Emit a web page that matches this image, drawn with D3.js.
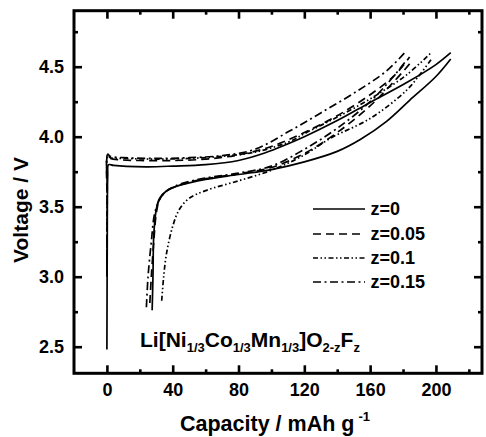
<!DOCTYPE html>
<html>
<head>
<meta charset="utf-8">
<script src="https://cdn.jsdelivr.net/npm/d3@7"></script>
<style>
  html, body { margin: 0; padding: 0; background: #fff; }
  svg { display: block; }
  text { font-family: "Liberation Sans", Arial, Helvetica, sans-serif; font-weight: bold; fill: #000; }
</style>
</head>
<body>
<svg id="chart" width="486" height="437"></svg>
<script>
// Charge / discharge profiles: [capacity (mAh/g), voltage (V)]
const z0Charge = [[0,2.48],[0.2,3.2],[0.5,3.72],[1,3.80],[4,3.795],[12,3.788],[25,3.785],[40,3.79],[60,3.80],[80,3.83],[95,3.88],[105,3.925],[120,4.00],[140,4.115],[160,4.245],[182,4.385],[200,4.515],[209,4.60]];
const z0Discharge = [[209,4.555],[200,4.43],[184,4.26],[170,4.11],[154,3.98],[140,3.895],[120,3.82],[100,3.765],[80,3.73],[60,3.695],[50,3.67],[42,3.645],[36,3.61],[32,3.56],[30,3.48],[28.5,3.3],[28,3.0],[27.5,2.76]];

const z005Charge = [[0,3.05],[0.2,3.5],[0.5,3.86],[2,3.845],[8,3.835],[20,3.83],[40,3.83],[60,3.84],[80,3.87],[100,3.93],[120,4.03],[140,4.15],[160,4.30],[175,4.44],[184,4.57]];
const z005Discharge = [[184,4.52],[175,4.40],[160,4.22],[140,4.03],[120,3.88],[100,3.78],[80,3.735],[60,3.70],[50,3.675],[42,3.645],[36,3.61],[32,3.55],[30,3.45],[28.5,3.25],[27,3.0],[26,2.79]];

const z01Charge = [[0,3.1],[0.2,3.6],[0.5,3.865],[2,3.85],[10,3.845],[30,3.84],[50,3.845],[70,3.86],[90,3.89],[110,3.96],[123,4.04],[140,4.14],[160,4.27],[182,4.44],[197,4.60]];
const z01Discharge = [[197,4.55],[190,4.44],[182,4.33],[160,4.13],[136,3.99],[120,3.87],[100,3.76],[80,3.685],[60,3.615],[50,3.56],[44,3.48],[40,3.36],[36.3,3.17],[34.5,3.0],[33.2,2.81]];

const z015Charge = [[0,3.0],[0.2,3.6],[0.5,3.875],[2,3.86],[10,3.85],[30,3.845],[50,3.85],[70,3.865],[90,3.91],[111,4.04],[130,4.17],[150,4.31],[170,4.47],[181,4.60]];
const z015Discharge = [[181,4.53],[172,4.40],[160,4.25],[140,4.06],[120,3.91],[100,3.79],[80,3.74],[60,3.705],[50,3.68],[42,3.65],[36,3.61],[32,3.55],[29,3.45],[27,3.25],[25,3.0],[24,2.78]];

const seriesNames = ["z=0", "z=0.05", "z=0.1", "z=0.15"];
const seriesCurves = [
  [z0Charge, z0Discharge],
  [z005Charge, z005Discharge],
  [z01Charge, z01Discharge],
  [z015Charge, z015Discharge]
];

const xMajorTicks = [0, 40, 80, 120, 160, 200];
const xMinorTicks = [20, 60, 100, 140, 180, 220];
const yMajorTicks = [2.5, 3.0, 3.5, 4.0, 4.5];
const yMinorTicks = [2.75, 3.25, 3.75, 4.25, 4.75];

// Line style per series
const dashStyles = ["none", "8,5", "5,2.5,1.5,2.5,1.5,2.5", "8,3.5,2,3.5"];

const svg = d3.select("#chart");
const plotLeft = 74, plotRight = 482, plotTop = 10.7, plotBottom = 373.3;

const x = d3.scaleLinear().domain([-20, 228]).range([plotLeft, plotRight]);
const y = d3.scaleLinear().domain([2.31, 4.9]).range([plotBottom, plotTop]);

const line = d3.line()
  .x(d => x(d[0]))
  .y(d => y(d[1]))
  .curve(d3.curveCatmullRom.alpha(0.5));

// curves
const curveG = svg.append("g").attr("fill", "none").attr("stroke", "#000").attr("stroke-width", 1.7);
seriesCurves.forEach((pair, i) => {
  pair.forEach(pts => {
    curveG.append("path")
      .attr("d", line(pts))
      .attr("stroke-dasharray", dashStyles[i]);
  });
});

// axes: ticks point inward on all four sides
function styleAxis(g) {
  g.select(".domain").remove();
  g.selectAll(".tick line").attr("stroke", "#000").attr("stroke-width", 2.6);
}
function styleLabels(g) {
  g.selectAll("text").attr("font-size", 18).attr("font-family", null).attr("fill", "#000").style("font-weight", "bold");
}

svg.append("g").attr("transform", `translate(0,${plotBottom})`)
  .call(d3.axisBottom(x).tickValues(xMajorTicks).tickSize(-8).tickPadding(10).tickFormat(d3.format("d")))
  .call(styleAxis).call(styleLabels);
svg.append("g").attr("transform", `translate(0,${plotBottom})`)
  .call(d3.axisBottom(x).tickValues(xMinorTicks).tickSize(-4).tickFormat(""))
  .call(styleAxis);
svg.append("g").attr("transform", `translate(0,${plotTop})`)
  .call(d3.axisTop(x).tickValues(xMajorTicks).tickSize(-8).tickFormat(""))
  .call(styleAxis);
svg.append("g").attr("transform", `translate(0,${plotTop})`)
  .call(d3.axisTop(x).tickValues(xMinorTicks).tickSize(-4).tickFormat(""))
  .call(styleAxis);

svg.append("g").attr("transform", `translate(${plotLeft},0)`)
  .call(d3.axisLeft(y).tickValues(yMajorTicks).tickSize(-8).tickPadding(10).tickFormat(d3.format(".1f")))
  .call(styleAxis).call(styleLabels);
svg.append("g").attr("transform", `translate(${plotLeft},0)`)
  .call(d3.axisLeft(y).tickValues(yMinorTicks).tickSize(-4).tickFormat(""))
  .call(styleAxis);
svg.append("g").attr("transform", `translate(${plotRight},0)`)
  .call(d3.axisRight(y).tickValues(yMajorTicks).tickSize(-8).tickFormat(""))
  .call(styleAxis);
svg.append("g").attr("transform", `translate(${plotRight},0)`)
  .call(d3.axisRight(y).tickValues(yMinorTicks).tickSize(-4).tickFormat(""))
  .call(styleAxis);

// frame
svg.append("rect")
  .attr("x", plotLeft).attr("y", plotTop)
  .attr("width", plotRight - plotLeft).attr("height", plotBottom - plotTop)
  .attr("fill", "none").attr("stroke", "#000").attr("stroke-width", 3);

// axis titles
const xt = svg.append("text")
  .attr("x", 275).attr("y", 431)
  .attr("text-anchor", "middle")
  .attr("font-size", 21.5);
xt.append("tspan").text("Capacity / mAh g");
xt.append("tspan").attr("font-size", 13).attr("dx", 4).attr("dy", -10).text("-1");

svg.append("text")
  .attr("transform", "translate(28,210) rotate(-90)")
  .attr("text-anchor", "middle")
  .attr("font-size", 21)
  .text("Voltage / V");

// legend
const legendY = [209, 234, 258, 282];
const legend = svg.append("g");
seriesNames.forEach((name, i) => {
  legend.append("line")
    .attr("x1", 313).attr("x2", 365)
    .attr("y1", legendY[i]).attr("y2", legendY[i])
    .attr("stroke", "#000").attr("stroke-width", 1.7)
    .attr("stroke-dasharray", dashStyles[i]);
  legend.append("text")
    .attr("x", 370.5).attr("y", legendY[i] + 6.3)
    .attr("font-size", 18)
    .text(name);
});

// compound formula
const f = svg.append("text").attr("x", 140).attr("y", 347).attr("font-size", 21);
const parts = [
  ["Li[Ni", false], ["1/3", true], ["Co", false], ["1/3", true],
  ["Mn", false], ["1/3", true], ["]O", false], ["2-z", true], ["F", false], ["z", true]
];
parts.forEach(([t, sub]) => {
  f.append("tspan")
    .attr("font-size", sub ? 13 : 21)
    .attr("baseline-shift", sub ? "-5" : null)
    .text(t);
});
</script>
</body>
</html>
